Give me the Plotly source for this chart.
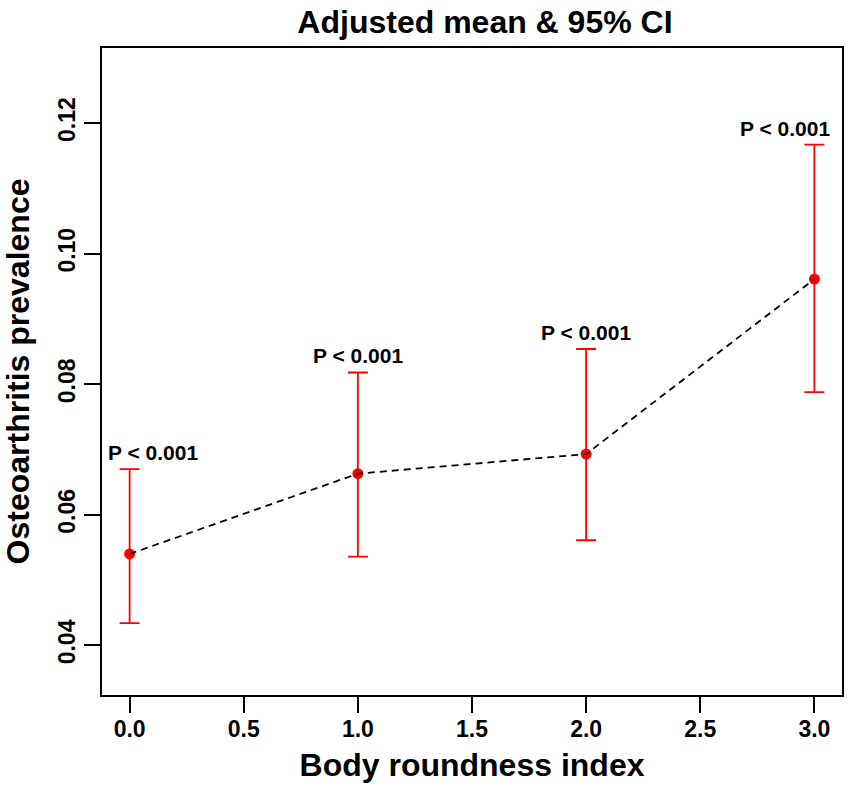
import plotly.graph_objects as go

# body roundness index groups and adjusted prevalence
bri = [0, 1, 2, 3]
adj_mean = [0.0540, 0.0663, 0.0693, 0.0961]
ci_low = [0.0434, 0.0536, 0.0561, 0.0788]
ci_high = [0.0670, 0.0818, 0.0854, 0.1167]
p_labels = ['P &lt; 0.001', 'P &lt; 0.001', 'P &lt; 0.001', 'P &lt; 0.001']

x_ticks = [0, 0.5, 1, 1.5, 2, 2.5, 3]
y_ticks = [0.04, 0.06, 0.08, 0.10, 0.12]

font = 'Liberation Sans, Arial, sans-serif'

fig = go.Figure()

# error bars + points
fig.add_trace(go.Scatter(
    x=bri, y=adj_mean, mode='markers',
    marker=dict(color='#ff0000', size=11),
    error_y=dict(type='data', symmetric=False,
                 array=[h - m for h, m in zip(ci_high, adj_mean)],
                 arrayminus=[m - l for m, l in zip(adj_mean, ci_low)],
                 color='#ff0000', thickness=1.8, width=10),
    showlegend=False,
))

# dashed line drawn over the points
fig.add_trace(go.Scatter(
    x=bri, y=adj_mean, mode='lines',
    line=dict(color='black', width=1.8, dash='7px,5px'),
    showlegend=False,
))

# p-value labels above the upper caps
shifts = [23, 0, 0, -29]
for xv, yv, lab, sh in zip(bri, ci_high, p_labels, shifts):
    fig.add_annotation(x=xv, y=yv, text=lab, showarrow=False,
                       xanchor='center', yanchor='bottom', yshift=3, xshift=sh,
                       font=dict(family=font, size=21, color='black', weight='bold'))

fig.update_layout(
    width=851, height=792,
    margin=dict(l=102, r=7, t=48, b=97),
    paper_bgcolor='white', plot_bgcolor='white',
    font=dict(family=font, color='black', weight='bold'),
    title=dict(text='Adjusted mean &amp; 95% CI', x=0.5175, xref='paper', xanchor='center',
               y=0.987, yref='container', yanchor='top',
               font=dict(family=font, size=32, color='black', weight='bold')),
)

fig.update_xaxes(
    range=[-0.121, 3.121], tickvals=x_ticks, tickformat='.1f',
    showgrid=False, zeroline=False,
    showline=True, linecolor='black', linewidth=2, mirror=True,
    ticks='outside', ticklen=16, tickwidth=2, tickcolor='black',
    ticklabelstandoff=-4,
    tickfont=dict(size=23, family=font, weight='bold'),
    title=dict(text='Body roundness index', standoff=13,
               font=dict(size=32, family=font, weight='bold')),
)

fig.update_yaxes(
    range=[0.0324, 0.1315], tickvals=y_ticks, tickformat='.2f',
    showgrid=False, zeroline=False,
    showline=True, linecolor='black', linewidth=2, mirror=True,
    ticks='outside', ticklen=16, tickwidth=2, tickcolor='black',
    tickangle=-90,
    tickfont=dict(size=23, family=font, weight='bold'),
    title=dict(text='Osteoarthritis prevalence', standoff=16,
               font=dict(size=32, family=font, weight='bold')),
)

# drop the default 8px body margin so the figure fills the window
fig.write_html('out.html', config={'displayModeBar': False},
               post_script="document.body.style.margin='0';")
